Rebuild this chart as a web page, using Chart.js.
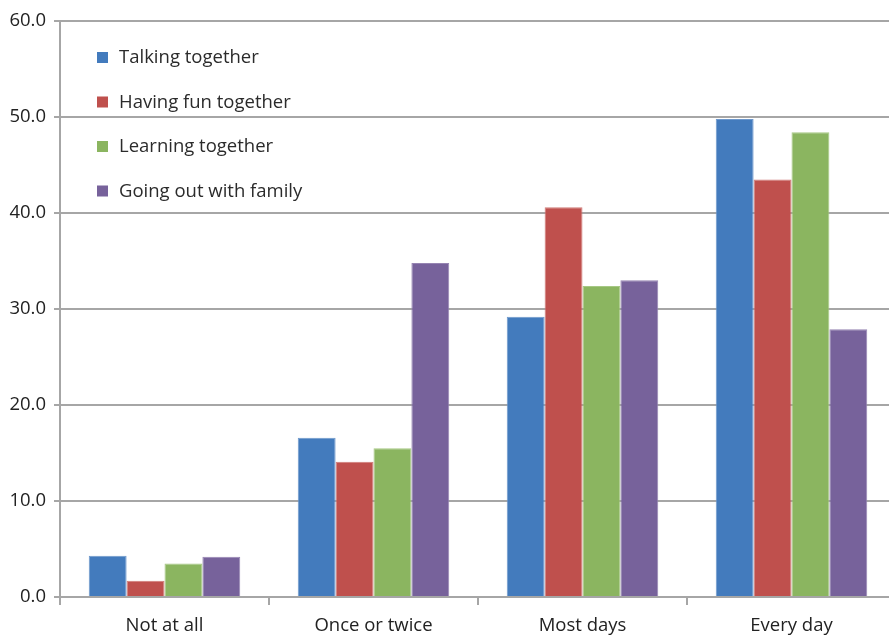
<!DOCTYPE html>
<html>
<head>
<meta charset="utf-8">
<script src="https://cdn.jsdelivr.net/npm/chart.js@4/dist/chart.umd.min.js"></script>
<style>
html,body{margin:0;padding:0;background:#fff;overflow:hidden;}
#wrap{width:889px;height:641px;position:relative;overflow:hidden;}
</style>
</head>
<body>
<div id="wrap"><canvas id="c" width="896" height="641"></canvas></div>
<script>
const categories = ["Not at all", "Once or twice", "Most days", "Every day"];
const seriesNames = ["Talking together", "Having fun together", "Learning together", "Going out with family"];
const talking = [4.3, 16.6, 29.2, 49.8];
const havingFun = [1.7, 14.1, 40.6, 43.5];
const learning = [3.5, 15.5, 32.4, 48.4];
const goingOut = [4.2, 34.8, 33.0, 27.9];
const yTicks = [0, 10, 20, 30, 40, 50, 60];

const colors = ["#437BBD", "#BF504D", "#8BB560", "#77629B"];
const borders = ["#6E98CC", "#D07A77", "#A6C884", "#9684B2"];
const values = [talking, havingFun, learning, goingOut];
const FONT = "'Open Sans', 'Liberation Sans', sans-serif";
const FS = 18.5;

const legendPlugin = {
  id: 'insideLegend',
  afterDraw(chart) {
    const ctx = chart.ctx;
    ctx.save();
    ctx.font = FS + "px " + FONT;
    ctx.textBaseline = 'middle';
    chart.data.datasets.forEach((ds, i) => {
      const y = 57 + i * 44.5;
      ctx.fillStyle = ds.backgroundColor;
      ctx.fillRect(97, y - 5, 11, 11);
      ctx.fillStyle = '#2b2b2b';
      ctx.fillText(ds.label, 119, y + 1);
    });
    ctx.restore();
  }
};

new Chart(document.getElementById('c'), {
  type: 'bar',
  data: {
    labels: categories,
    datasets: seriesNames.map((n, i) => ({
      label: n,
      data: values[i],
      backgroundColor: colors[i],
      borderColor: borders[i],
      borderWidth: 1,
      categoryPercentage: 0.725,
      barPercentage: 1.0
    }))
  },
  options: {
    responsive: false,
    animation: false,
    layout: { padding: { top: 21, left: 0, right: 0, bottom: 0 } },
    plugins: { legend: { display: false }, tooltip: { enabled: false } },
    scales: {
      x: {
        offset: true,
        grid: { offset: true, drawOnChartArea: false, drawTicks: true, tickLength: 8, color: '#A6A6A6', lineWidth: 2 },
        border: { color: '#A6A6A6', width: 2 },
        ticks: { color: '#222', font: { family: FONT, size: FS }, padding: 10, maxRotation: 0 },
        afterFit(s) { s.height = 44; }
      },
      y: {
        min: 0, max: 60,
        afterBuildTicks(s) { s.ticks = yTicks.map(v => ({ value: v })); },
        grid: { color: '#A6A6A6', lineWidth: 2, tickLength: 6 },
        border: { color: '#A6A6A6', width: 2 },
        ticks: { color: '#222', font: { family: FONT, size: FS }, padding: 8, callback: v => Number(v).toFixed(1) },
        afterFit(s) { s.width = 60; }
      }
    }
  },
  plugins: [legendPlugin]
});
</script>
</body>
</html>
